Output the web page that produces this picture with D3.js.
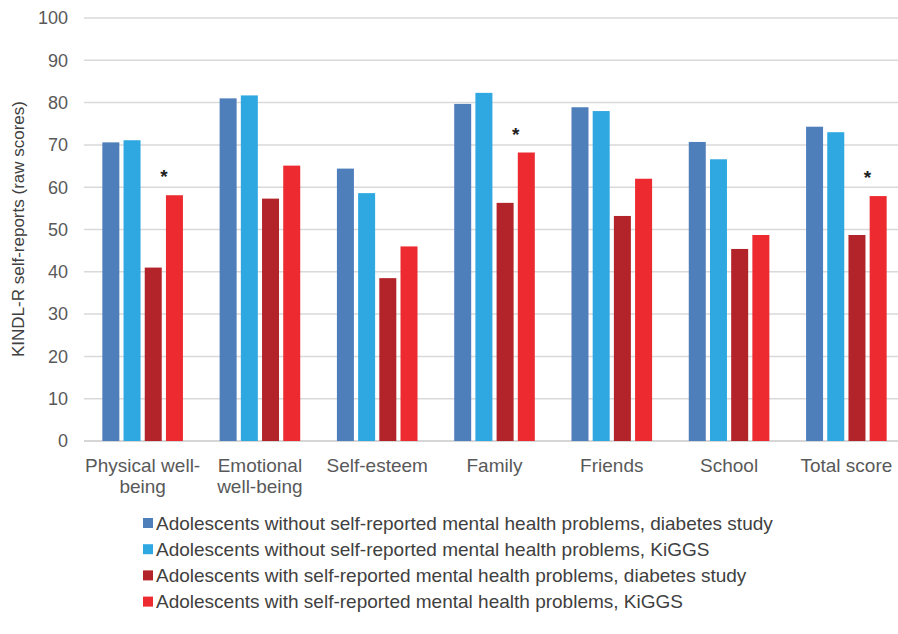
<!DOCTYPE html>
<html>
<head>
<meta charset="utf-8">
<script src="https://cdn.jsdelivr.net/npm/d3@7"></script>
<style>
  body { margin: 0; background: #fff; }
  text { font-family: "Liberation Sans", Arial, sans-serif; }
</style>
</head>
<body>
<script>
const categories = ["Physical well-being", "Emotional well-being", "Self-esteem", "Family", "Friends", "School", "Total score"];
const categoryLines = [["Physical well-", "being"], ["Emotional", "well-being"], ["Self-esteem"], ["Family"], ["Friends"], ["School"], ["Total score"]];
const seriesNames = [
  "Adolescents without self-reported mental health problems, diabetes study",
  "Adolescents without self-reported mental health problems, KiGGS",
  "Adolescents with self-reported mental health problems, diabetes study",
  "Adolescents with self-reported mental health problems, KiGGS"
];
const withoutDiabetes = [70.6, 81.0, 64.4, 79.7, 78.9, 70.7, 74.3];
const withoutKiggs    = [71.1, 81.7, 58.6, 82.3, 78.0, 66.6, 73.0];
const withDiabetes    = [41.0, 57.3, 38.5, 56.3, 53.2, 45.4, 48.7];
const withKiggs       = [58.1, 65.1, 46.0, 68.2, 62.0, 48.7, 57.9];
const significant     = ["Physical well-being", "Family", "Total score"];
const yTicks = [0, 10, 20, 30, 40, 50, 60, 70, 80, 90, 100];
const colors = ["#4f7fbb", "#2fa8e1", "#b3242a", "#ec2a2f"];

const series = [withoutDiabetes, withoutKiggs, withDiabetes, withKiggs];

const W = 898, H = 634;
const svg = d3.select("body").append("svg")
  .attr("width", W).attr("height", H);

const x = d3.scaleBand().domain(categories).range([84, 905]).paddingInner(0).paddingOuter(0);
const y = d3.scaleLinear().domain([0, 100]).range([441, 18]);

// gridlines
svg.append("g").selectAll("line")
  .data(yTicks)
  .join("line")
  .attr("x1", 84).attr("x2", W)
  .attr("y1", d => y(d)).attr("y2", d => y(d))
  .attr("stroke", d => d === 0 ? "#c8c8c8" : "#d9d9d9")
  .attr("stroke-width", 1.5);

// y tick labels
svg.append("g").selectAll("text")
  .data(yTicks)
  .join("text")
  .attr("x", 68).attr("y", d => y(d))
  .attr("dy", "0.35em")
  .attr("text-anchor", "end")
  .attr("font-size", 18)
  .attr("fill", "#595959")
  .text(d => d);

// y title
svg.append("text")
  .attr("transform", "translate(24,229) rotate(-90)")
  .attr("text-anchor", "middle")
  .attr("font-size", 17)
  .attr("fill", "#404040")
  .text("KINDL-R self-reports (raw scores)");

// bars
const barW = 17, gap = 4.2;
const inner = d3.scaleBand().domain(d3.range(4))
  .range([(x.bandwidth() - (4 * barW + 3 * gap)) / 2, (x.bandwidth() + (4 * barW + 3 * gap)) / 2])
  .paddingInner(gap / (barW + gap)).paddingOuter(0);

const groups = svg.append("g").selectAll("g")
  .data(categories)
  .join("g")
  .attr("transform", d => `translate(${x(d)},0)`);

groups.selectAll("rect")
  .data((c, i) => series.map((s, k) => ({ k, v: s[i] })))
  .join("rect")
  .attr("x", d => inner(d.k))
  .attr("y", d => y(d.v))
  .attr("width", inner.bandwidth())
  .attr("height", d => y(0) - y(d.v))
  .attr("fill", d => colors[d.k]);

// significance stars
svg.append("g").selectAll("text")
  .data(significant)
  .join("text")
  .attr("x", d => x(d) + (inner(2) + inner(3) + inner.bandwidth()) / 2)
  .attr("y", d => y(withKiggs[categories.indexOf(d)]) - 12)
  .attr("text-anchor", "middle")
  .attr("font-size", 19)
  .attr("font-weight", "bold")
  .attr("fill", "#222")
  .text("*");

// x labels
const xl = svg.append("g").selectAll("text")
  .data(categories)
  .join("text")
  .attr("x", d => x(d) + x.bandwidth() / 2)
  .attr("y", 472)
  .attr("text-anchor", "middle")
  .attr("font-size", 19)
  .attr("fill", "#595959");
xl.selectAll("tspan")
  .data((d, i) => categoryLines[i])
  .join("tspan")
  .attr("x", function () { return d3.select(this.parentNode).attr("x"); })
  .attr("dy", (d, i) => i === 0 ? 0 : 21)
  .text(d => d);

// legend
const leg = svg.append("g").selectAll("g")
  .data(seriesNames)
  .join("g")
  .attr("transform", (d, i) => `translate(143,${523 + i * 26.2})`);
leg.append("rect")
  .attr("x", 0).attr("y", -5)
  .attr("width", 10).attr("height", 10)
  .attr("fill", (d, i) => colors[i]);
leg.append("text")
  .attr("x", 13).attr("y", 0)
  .attr("dy", "0.35em")
  .attr("font-size", 19)
  .attr("fill", "#404040")
  .text(d => d);
</script>
</body>
</html>
